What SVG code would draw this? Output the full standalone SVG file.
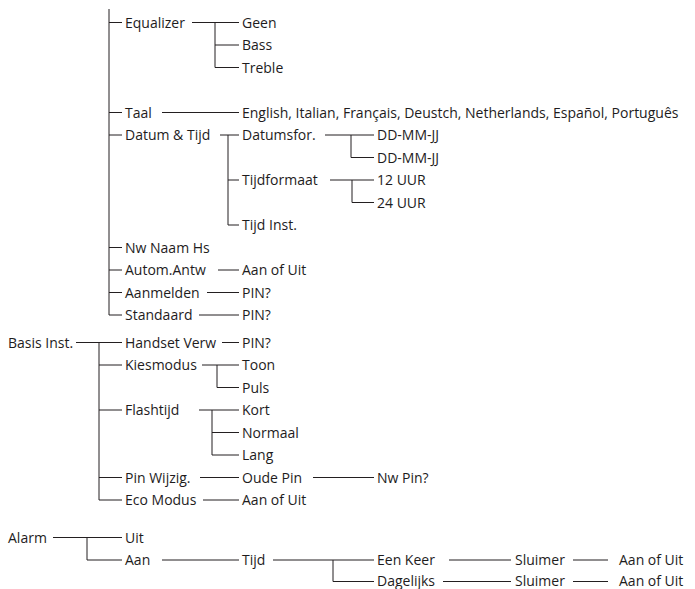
<svg xmlns="http://www.w3.org/2000/svg" width="695" height="589" viewBox="0 0 695 589">
<style>
text{font-family:"Open Sans","Noto Sans",sans-serif;font-size:14px;fill:#1e1c1d}
.c path{fill:none;stroke:#231f20;stroke-width:1}
</style>
<rect width="695" height="589" fill="#fff"/>
<g class="c" id="connectors">
<path d="M109 9V315H122M109 22.5H122M109 112.5H122M109 135H122M109 247.5H122M109 270H122M109 292.5H122"/>
<path d="M192 22.5H239M215 22.5V67.5H239M215 45H239"/>
<path d="M162 112.5H239"/>
<path d="M220 135H239M228 135V225H239M228 180H239"/>
<path d="M325 135H374M351 135V157.5H374"/>
<path d="M330 180H374M352 180V202.5H374"/>
<path d="M218 270H239M207 292.5H239M199 315H239"/>
<path d="M76 342.5H122M99 342.5V500H122M99 365H122M99 410H122M99 477.5H122"/>
<path d="M222 342.5H239"/>
<path d="M202 365H239M217 365V387.5H239"/>
<path d="M199 410H239M212 410V455H239M212 432.5H239"/>
<path d="M200 477.5H239M313 477.5H374M203 500H239"/>
<path d="M53 537.5H122M87 537.5V560H122"/>
<path d="M162 560H239M273 560H374M333 560V581.5H374"/>
<path d="M449 560H511M573 560H608M443 581.5H511M573 581.5H608"/>
</g>
<g id="equalizer"><text x="125" y="27.5">Equalizer</text></g>
<g id="geen"><text x="242" y="27.5">Geen</text></g>
<g id="bass"><text x="242" y="50">Bass</text></g>
<g id="treble"><text x="242" y="72.5">Treble</text></g>
<g id="taal"><text x="125" y="117.5">Taal</text></g>
<g id="talen"><text x="242" y="117.5">English, Italian, Français, Deustch, Netherlands, Español, Português</text></g>
<g id="datum-tijd"><text x="125" y="140">Datum &amp; Tijd</text></g>
<g id="datumsfor"><text x="242" y="140">Datumsfor.</text></g>
<g id="dd1"><text x="377" y="140">DD-MM-JJ</text></g>
<g id="dd2"><text x="377" y="162.5">DD-MM-JJ</text></g>
<g id="tijdformaat"><text x="242" y="185">Tijdformaat</text></g>
<g id="uur12"><text x="377" y="185">12 UUR</text></g>
<g id="uur24"><text x="377" y="207.5">24 UUR</text></g>
<g id="tijd-inst"><text x="242" y="230">Tijd Inst.</text></g>
<g id="nw-naam"><text x="125" y="252.5">Nw Naam Hs</text></g>
<g id="autom"><text x="125" y="275">Autom.Antw</text></g>
<g id="autom-aan"><text x="242" y="275">Aan of Uit</text></g>
<g id="aanmelden"><text x="125" y="297.5">Aanmelden</text></g>
<g id="aanmelden-pin"><text x="242" y="297.5">PIN?</text></g>
<g id="standaard"><text x="125" y="320">Standaard</text></g>
<g id="standaard-pin"><text x="242" y="320">PIN?</text></g>
<g id="basis"><text x="8" y="347.5">Basis Inst.</text></g>
<g id="handset"><text x="125" y="347.5">Handset Verw</text></g>
<g id="handset-pin"><text x="242" y="347.5">PIN?</text></g>
<g id="kiesmodus"><text x="125" y="370">Kiesmodus</text></g>
<g id="toon"><text x="242" y="370">Toon</text></g>
<g id="puls"><text x="242" y="392.5">Puls</text></g>
<g id="flashtijd"><text x="125" y="415">Flashtijd</text></g>
<g id="kort"><text x="242" y="415">Kort</text></g>
<g id="normaal"><text x="242" y="437.5">Normaal</text></g>
<g id="lang"><text x="242" y="460">Lang</text></g>
<g id="pin-wijzig"><text x="125" y="482.5">Pin Wijzig.</text></g>
<g id="oude-pin"><text x="242" y="482.5">Oude Pin</text></g>
<g id="nw-pin"><text x="377" y="482.5">Nw Pin?</text></g>
<g id="eco"><text x="125" y="505">Eco Modus</text></g>
<g id="eco-aan"><text x="242" y="505">Aan of Uit</text></g>
<g id="alarm"><text x="8" y="542.5">Alarm</text></g>
<g id="uit"><text x="125" y="542.5">Uit</text></g>
<g id="aan"><text x="125" y="565">Aan</text></g>
<g id="tijd"><text x="242" y="565">Tijd</text></g>
<g id="een-keer"><text x="377" y="565">Een Keer</text></g>
<g id="sluimer1"><text x="515" y="565">Sluimer</text></g>
<g id="aanuit1"><text x="619" y="565">Aan of Uit</text></g>
<g id="dagelijks"><text x="377" y="585.5">Dagelijks</text></g>
<g id="sluimer2"><text x="515" y="585.5">Sluimer</text></g>
<g id="aanuit2"><text x="619" y="585.5">Aan of Uit</text></g>
</svg>
